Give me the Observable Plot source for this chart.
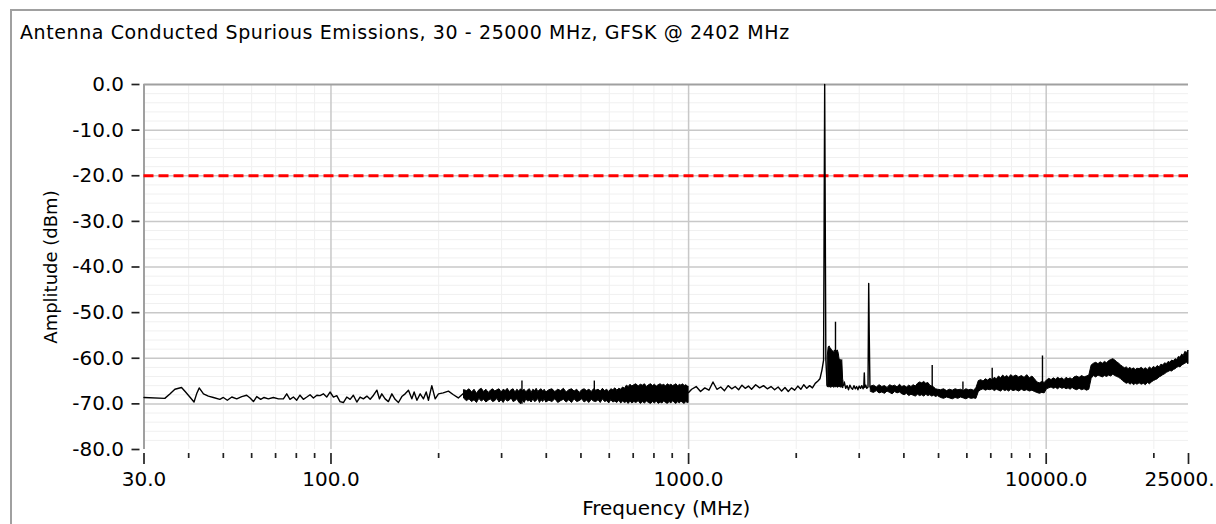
<!DOCTYPE html>
<html><head><meta charset="utf-8">
<script src="https://cdn.jsdelivr.net/npm/d3@7"></script>
<script src="https://cdn.jsdelivr.net/npm/@observablehq/plot@0.6"></script>
<style>
body{margin:0;background:#fff;}
#page{position:relative;width:1216px;height:524px;overflow:hidden;background:#fff;font-family:"DejaVu Sans",sans-serif;}
#panel{position:absolute;left:10px;top:9px;width:1300px;height:600px;border-left:2px solid #a0a0a0;border-top:2px solid #a0a0a0;}
#title{position:absolute;left:20px;top:23px;font-size:19px;letter-spacing:0.6px;line-height:18px;color:#000;white-space:nowrap;}
#chart{position:absolute;left:0;top:60px;}
</style></head>
<body>
<div id="page"><div id="panel"></div><div id="title"></div><div id="chart"></div></div>
<script>
const titleText = "Antenna Conducted Spurious Emissions, 30 - 25000 MHz, GFSK @ 2402 MHz";
const xLabel = "Frequency (MHz)";
const yLabel = "Amplitude (dBm)";
const limitDbm = -20;
const yTicks = [0, -10, -20, -30, -40, -50, -60, -70, -80];
const yMinor = [-2,-4,-6,-8,-12,-14,-16,-18,-22,-24,-26,-28,-32,-34,-36,-38,-42,-44,-46,-48,-52,-54,-56,-58,-62,-64,-66,-68,-72,-74,-76,-78];
const xMajorTicks = [30, 100, 1000, 10000, 25000];
const xMajorLabels = ["30.0", "100.0", "1000.0", "10000.0", "25000."];
const xMinorTicks = [40,50,60,70,80,90,200,300,400,500,600,700,800,900,2000,3000,4000,5000,6000,7000,8000,9000,20000];
const xGrid = [100, 1000, 10000];

// sparse trace sections: [frequency MHz, amplitude dBm]
const lowTrace = [[30,-68.6],[34.3,-68.8],[35.5,-67.8],[36.6,-66.8],[38.2,-66.4],[39.1,-67.3],[40.3,-68.5],[41.4,-69.6],[42.1,-67.8],[42.8,-66.5],[44.0,-67.8],[45.4,-68.3],[46.9,-68.6],[48.9,-69.0],[50.0,-68.6],[51.3,-69.2],[52.8,-68.5],[54.5,-68.9],[56.3,-68.4],[58.1,-68.1],[59.4,-68.7],[60.7,-69.5],[62.0,-68.4],[63.6,-69.0],[65.0,-68.6],[66.8,-68.9],[69.0,-68.6],[71.3,-68.9],[73.6,-68.9],[75.2,-67.8],[76.8,-69.0],[78.5,-68.5],[80.2,-69.2],[81.9,-68.1],[83.7,-69.0],[85.6,-68.5],[87.4,-68.0],[89.3,-68.7],[91.3,-68.1],[93.2,-68.2],[95.2,-67.8],[97.3,-68.5],[99.4,-67.4],[101.6,-68.5],[103.8,-68.2],[106.0,-69.5],[108.3,-69.7],[110.7,-68.5],[113.1,-69.0],[115.5,-68.1],[118.1,-69.6],[120.6,-68.5],[123.2,-68.9],[126.0,-68.3],[128.7,-69.0],[131.5,-68.1],[134.4,-67.0],[136.6,-68.9],[138.7,-67.8],[141.7,-68.9],[144.7,-69.5],[148.0,-67.8],[151.1,-69.0],[154.4,-69.7],[157.8,-68.4],[161.2,-67.8],[164.7,-67.0],[168.3,-68.9],[170.8,-67.4],[173.9,-69.2],[177.6,-67.8],[181.4,-68.9],[184.6,-67.4],[187.3,-69.2],[191.4,-66.0],[195.6,-68.9],[199.8,-67.8],[206,-67.6],[213,-67.2],[220,-68.0],[227,-68.7],[234,-67.8],[236,-68.2]];

const midTrace = [[1000,-67.5],[1020,-66.8],[1050,-66.2],[1080,-67.3],[1110,-66.5],[1140,-67.0],[1170,-65.2],[1200,-66.8],[1230,-66.3],[1260,-67.1],[1290,-66.0],[1320,-66.7],[1350,-66.2],[1380,-66.9],[1410,-65.9],[1440,-66.6],[1470,-66.1],[1500,-66.8],[1540,-65.8],[1580,-66.5],[1620,-66.0],[1660,-66.7],[1700,-66.2],[1740,-66.9],[1780,-66.3],[1820,-67.2],[1860,-66.4],[1900,-67.3],[1940,-66.5],[1980,-67.0],[2020,-66.1],[2060,-66.8],[2100,-65.8],[2140,-66.6],[2180,-66.0],[2220,-66.5],[2260,-65.5],[2300,-65.0],[2330,-64.5],[2360,-62.6],[2385,-60.4],[2402,0.0],[2420,-60.4],[2440,-65.8],[2450,-66.0],
[2710,-66.0],[2725,-65.2],[2750,-66.6],[2775,-66.0],[2800,-66.9],[2825,-65.9],[2850,-66.5],[2875,-66.8],[2900,-66.0],[2925,-66.7],[2950,-66.2],[2975,-66.9],[3000,-66.1],[3025,-66.6],[3050,-66.0],[3075,-66.7],[3090,-66.2],[3100,-63.2],[3110,-66.4],[3130,-65.9],[3150,-66.6],[3175,-66.3],[3189,-43.6],[3200,-54.7],[3215,-66.2],[3240,-66.8]];

// dense noise bands: [frequency MHz, upper dBm, lower dBm]
const band1 = [[236,-67.0,-68.9],[240,-67.2,-69.4],[244,-66.8,-69.0],[248,-67.5,-69.6],[252,-66.9,-69.2],[256,-67.8,-69.8],[260,-67.0,-68.9],[264,-66.7,-69.5],[268,-67.4,-69.1],[272,-66.9,-69.7],[276,-67.6,-69.3],[280,-67.1,-69.0],[284,-66.8,-69.6],[288,-67.3,-69.4],[292,-67.0,-68.9],[296,-66.8,-69.7],[300,-67.5,-69.2],[304,-66.9,-69.8],[308,-67.2,-69.0],[312,-66.7,-69.5],[316,-67.4,-69.3],[320,-67.0,-68.8],[324,-66.8,-69.6],[328,-67.5,-69.4],[332,-66.9,-69.0],[336,-67.3,-69.7],[340,-66.8,-70.1],[344,-67.2,-69.2],[348,-66.9,-69.8],[352,-67.5,-69.0],[356,-67.0,-69.5],[360,-66.8,-69.3],[364,-67.6,-69.7],[368,-66.9,-69.0],[372,-67.2,-69.6],[376,-66.7,-69.4],[380,-67.4,-68.9],[384,-67.0,-69.8],[388,-66.8,-69.2],[392,-67.3,-69.6],[396,-66.9,-69.0],[400,-67.5,-69.7],
[408,-67.0,-69.3],[416,-66.8,-69.6],[424,-67.4,-69.0],[432,-66.9,-69.8],[440,-67.2,-69.4],[448,-66.7,-69.1],[456,-67.5,-69.7],[464,-67.0,-69.2],[472,-66.8,-69.8],[480,-67.3,-69.0],[488,-66.9,-69.6],[496,-67.6,-69.4],[504,-67.0,-69.0],[512,-66.8,-69.7],[520,-67.2,-69.3],[528,-66.9,-69.8],[536,-67.4,-69.1],[544,-66.8,-69.5],[552,-67.1,-69.6],[560,-66.9,-69.2],[568,-67.3,-69.8],[576,-66.7,-69.0],[584,-67.2,-69.6],[592,-66.9,-69.4],[600,-67.4,-69.9],[608,-66.8,-69.2],[616,-67.0,-69.7],[624,-66.6,-69.5],[632,-67.1,-69.8],[640,-66.7,-69.3],[648,-66.9,-69.9],[656,-66.4,-69.5],[664,-66.7,-69.8],[672,-66.0,-69.6],[680,-66.3,-70.0],[688,-65.8,-69.5],[696,-66.2,-69.9],
[705,-65.9,-69.6],[715,-65.7,-69.8],[725,-66.2,-69.4],[735,-65.8,-70.0],[745,-66.0,-69.6],[755,-65.7,-69.9],[765,-66.3,-69.5],[775,-65.9,-69.8],[785,-65.7,-70.0],[795,-66.1,-69.6],[805,-65.8,-69.9],[815,-66.2,-69.5],[825,-65.9,-70.0],[835,-65.7,-69.7],[845,-66.0,-69.9],[855,-65.8,-69.5],[865,-66.2,-69.8],[875,-65.7,-70.0],[885,-66.0,-69.6],[895,-65.8,-69.9],[905,-66.1,-69.4],[915,-65.9,-69.8],[925,-65.7,-70.0],[935,-66.2,-69.6],[945,-65.8,-69.9],[955,-66.0,-69.5],[965,-65.7,-69.8],[975,-66.1,-70.0],[985,-65.9,-69.6],[995,-66.2,-69.8],[1000,-66.2,-69.8]];

const clusterBand = [[2450,-59.5,-66.3],[2465,-57.6,-66.4],[2480,-57.4,-66.2],[2495,-57.9,-66.5],[2510,-58.0,-66.3],[2525,-58.6,-66.4],[2540,-58.4,-66.2],[2555,-59.0,-66.5],[2570,-58.3,-66.3],[2585,-58.2,-66.4],[2600,-58.4,-66.2],[2615,-58.3,-66.5],[2630,-59.0,-66.3],[2645,-60.4,-66.4],[2660,-60.3,-66.2],[2675,-60.6,-66.5],[2690,-60.4,-66.3],[2705,-64.8,-66.6],[2710,-64.8,-66.6]];

const band2 = [[3240,-66.2,-67.4],[3300,-66.0,-67.6],[3360,-66.4,-67.2],[3420,-65.9,-67.7],[3480,-66.3,-67.5],[3540,-66.1,-67.8],[3600,-66.5,-67.3],[3660,-65.9,-67.6],[3720,-66.2,-67.9],[3780,-66.0,-67.4],[3840,-66.4,-67.7],[3900,-65.8,-67.5],[3960,-66.3,-67.9],[4020,-66.1,-68.1],[4080,-66.4,-67.8],[4140,-66.0,-68.3],[4200,-66.3,-68.0],[4260,-65.9,-68.2],[4320,-66.2,-68.4],[4380,-65.6,-68.0],[4440,-65.3,-68.3],[4500,-65.5,-68.1],[4560,-65.2,-68.4],[4620,-65.6,-68.0],[4680,-65.4,-68.3],[4740,-66.0,-68.1],[4800,-66.2,-68.4],[4860,-66.4,-68.2],[4920,-66.8,-68.5],[4980,-66.9,-68.3],
[5080,-67.0,-68.7],[5180,-66.8,-68.9],[5280,-67.2,-68.6],[5380,-66.9,-68.8],[5480,-67.1,-69.0],[5580,-66.8,-68.7],[5680,-67.0,-68.9],[5780,-66.9,-68.6],[5880,-67.2,-68.8],[5980,-66.8,-69.0],[6080,-67.0,-68.7],[6180,-66.9,-68.9],[6280,-67.1,-68.8],[6380,-66.6,-68.9],[6480,-65.0,-67.4],[6580,-64.8,-67.0],[6680,-65.1,-66.8],[6780,-64.6,-67.1],[6880,-64.9,-66.9],[6980,-64.5,-67.0],[7080,-64.8,-66.8],[7180,-64.3,-67.2],[7280,-64.6,-66.9],[7380,-64.0,-67.1],[7480,-64.4,-67.3],[7580,-63.8,-66.9],[7680,-64.2,-67.2],[7780,-63.9,-67.0],[7880,-64.3,-67.3],[7980,-63.7,-66.9],
[8100,-64.1,-67.2],[8250,-63.8,-67.0],[8400,-64.2,-67.3],[8550,-63.9,-66.9],[8700,-64.3,-67.2],[8850,-63.7,-67.0],[9000,-64.4,-67.3],[9150,-64.0,-67.1],[9300,-64.6,-67.4],[9450,-65.3,-67.6],[9600,-65.5,-67.8],[9750,-65.2,-67.6],[9900,-65.4,-67.7],[10050,-64.9,-66.8],[10200,-64.5,-66.6],[10350,-64.8,-66.4],[10500,-64.4,-66.7],[10650,-64.7,-66.5],[10800,-64.3,-66.8],[10950,-64.6,-66.4],[11100,-64.4,-66.7],[11250,-64.8,-66.5],[11400,-64.3,-66.8],[11550,-64.6,-66.6],[11700,-64.4,-66.9],[11850,-64.7,-66.5],[12000,-64.2,-66.8],
[12200,-64.0,-67.0],[12400,-64.3,-66.7],[12600,-63.9,-67.0],[12800,-64.2,-66.8],[13000,-64.0,-67.1],[13200,-63.8,-66.9],[13400,-61.6,-64.5],[13600,-61.2,-63.9],[13800,-61.0,-64.2],[14000,-61.3,-63.8],[14200,-60.9,-64.0],[14400,-61.2,-64.2],[14600,-60.8,-63.9],[14800,-61.1,-64.1],[15000,-60.6,-63.8],[15200,-60.4,-64.0],[15400,-60.2,-63.6],[15600,-60.5,-63.9],[15800,-60.9,-64.1],[16000,-61.2,-64.3],[16200,-61.6,-64.6],[16400,-61.9,-65.0],[16600,-62.2,-65.3],[16800,-62.0,-65.6],[17000,-62.4,-65.4],[17200,-62.1,-65.8],[17400,-62.5,-65.5],[17600,-62.2,-65.9],[17800,-62.6,-65.6],[18000,-62.3,-65.8],
[18250,-62.4,-65.5],[18500,-62.1,-65.8],[18750,-62.5,-65.6],[19000,-62.2,-65.9],[19250,-62.6,-65.4],[19500,-62.0,-65.7],[19750,-62.4,-65.3],[20000,-61.9,-65.0],[20250,-62.2,-64.8],[20500,-61.7,-64.6],[20750,-62.0,-64.2],[21000,-61.4,-64.0],[21250,-61.6,-63.7],[21500,-61.1,-63.5],[21750,-61.3,-63.2],[22000,-60.8,-63.0],[22250,-61.0,-62.8],[22500,-60.5,-62.9],[22750,-60.7,-62.6],[23000,-60.2,-62.4],[23250,-60.4,-62.1],[23500,-59.7,-61.9],[23750,-59.9,-62.0],[24000,-59.2,-61.6],[24250,-59.5,-61.4],[24500,-58.6,-61.2],[24750,-58.9,-61.0],[25000,-58.3,-61.3]];

// narrow spurs rising out of the noise bands: [frequency MHz, base dBm, top dBm]
const spurs = [[342,-70.1,-65.0],[545,-69.0,-65.0],[2575,-58.3,-52.1],[4800,-68.2,-61.6],[5850,-68.0,-65.2],[7063,-66.9,-62.2],[9763,-67.7,-59.5]];

document.getElementById("title").textContent = titleText;

const bandMark = data => Plot.areaY(data, {x: d => d[0], y1: d => d[2], y2: d => d[1], fill: "#000", stroke: "#000", strokeWidth: 1, curve: "linear"});

const chart = Plot.plot({
  width: 1216,
  height: 464,
  marginLeft: 143.5,
  marginRight: 28,
  marginTop: 24,
  marginBottom: 75,
  style: {fontFamily: "DejaVu Sans, sans-serif", fontSize: "20px", color: "#000", background: "transparent", overflow: "visible"},
  x: {type: "log", domain: [30, 25000]},
  y: {domain: [-80, 0]},
  marks: [
    Plot.ruleX(xMinorTicks, {stroke: "#f0f0f0", strokeWidth: 1}),
    Plot.ruleY(yMinor, {stroke: "#f0f0f0", strokeWidth: 1}),
    Plot.ruleY(yTicks.filter(d => d !== 0 && d !== -80), {stroke: "#c8c8c8", strokeWidth: 1.5}),
    Plot.ruleX(xGrid, {stroke: "#c8c8c8", strokeWidth: 1.5}),
    Plot.ruleY([0], {stroke: "#a0a0a0", strokeWidth: 2}),
    Plot.ruleX([30], {stroke: "#a0a0a0", strokeWidth: 2}),
    Plot.ruleY([limitDbm], {stroke: "#ff0000", strokeWidth: 3, strokeDasharray: "10,5"}),
    bandMark(band1),
    bandMark(clusterBand),
    bandMark(band2),
    Plot.line(lowTrace, {x: d => d[0], y: d => d[1], stroke: "#000", strokeWidth: 1.4}),
    Plot.line(midTrace, {x: d => d[0], y: d => d[1], stroke: "#000", strokeWidth: 1.4}),
    Plot.ruleX(spurs, {x: d => d[0], y1: d => d[1], y2: d => d[2], stroke: "#000", strokeWidth: 1.4}),
    Plot.axisY(yTicks, {tickSize: 8, dx: -4, tickPadding: 8, tickFormat: d => d.toFixed(1), stroke: "#222", strokeWidth: 1.7, label: null}),
    Plot.axisX(xMajorTicks, {tickSize: 11, dy: 4, tickFormat: () => "", stroke: "#222", strokeWidth: 1.7, label: null}),
    Plot.axisX(xMinorTicks, {tickSize: 5, dy: 4, tickFormat: () => "", stroke: "#222", strokeWidth: 1.7, label: null}),
    Plot.text(xMajorTicks.slice(0, 4), {x: d => d, text: (d, i) => xMajorLabels[i], frameAnchor: "bottom", lineAnchor: "top", dy: 22, fontSize: 20}),
    Plot.text(xMajorTicks.slice(4), {x: d => d, text: (d, i) => xMajorLabels[4 + i], frameAnchor: "bottom", lineAnchor: "top", dy: 22, dx: -9, fontSize: 20}),
    Plot.text([yLabel], {frameAnchor: "left", dx: -93, rotate: -90, textAnchor: "middle", fontSize: 18}),
    Plot.text([xLabel], {frameAnchor: "bottom", dy: 65, fontSize: 20})
  ]
});
document.getElementById("chart").appendChild(chart);
</script>
</body></html>
